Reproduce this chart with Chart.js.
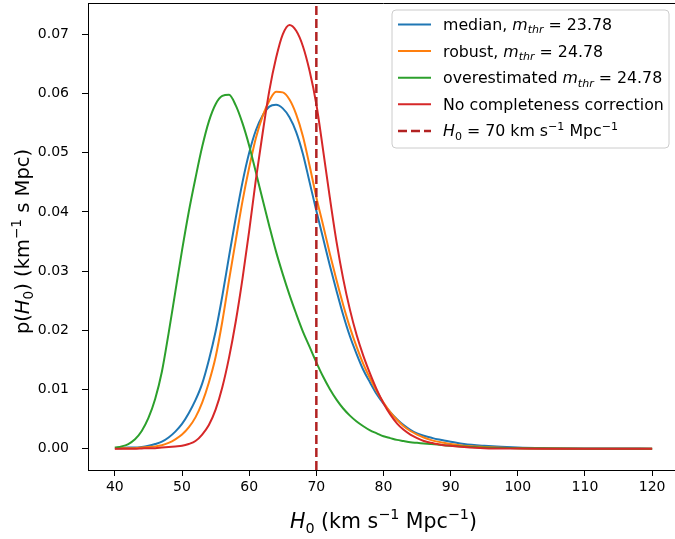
<!DOCTYPE html>
<html>
<head>
<meta charset="utf-8">
<script src="https://cdn.jsdelivr.net/npm/chart.js@4/dist/chart.umd.min.js"></script>
<style>
html,body{margin:0;padding:0;background:#fff;overflow:hidden;}
#wrap{width:675px;height:539px;overflow:hidden;position:relative;}
#c{display:block;position:absolute;left:0;top:0;}
</style>
</head>
<body>
<div id="wrap"><canvas id="c" width="685" height="539" style="width:685px;height:539px"></canvas></div>
<script>
// ---- data ----
const H0grid = [40,41,42,43,44,45,46,47,48,49,50,51,52,53,54,55,56,57,58,59,60,61,62,63,64,65,66,67,68,69,70,71,72,73,74,75,76,77,78,79,80,81,82,83,84,85,86,87,88,89,90,92,95,100,105,110,115,120];
const median = [0.0001,0.0001,0.0002,0.0002,0.0003,0.0005,0.0008,0.0012,0.0019,0.0029,0.0042,0.0060,0.0082,0.0110,0.0150,0.0198,0.0258,0.0325,0.0390,0.0450,0.0500,0.0538,0.0563,0.0578,0.0581,0.0575,0.0560,0.0535,0.0498,0.0450,0.0402,0.0356,0.0310,0.0267,0.0226,0.0190,0.0160,0.0133,0.0112,0.0092,0.0076,0.0062,0.0050,0.0040,0.0032,0.0026,0.0022,0.0019,0.0016,0.0014,0.0012,0.0008,0.0005,0.0002,0.0001,0.00005,0.00003,0.00002];
const robust = [0.00005,0.0001,0.0001,0.0001,0.0002,0.0003,0.0004,0.0006,0.0010,0.0016,0.0024,0.0036,0.0053,0.0078,0.0112,0.0155,0.0215,0.0285,0.0352,0.0418,0.0475,0.0525,0.0562,0.0588,0.0603,0.0602,0.0590,0.0565,0.0528,0.0478,0.0425,0.0378,0.0330,0.0285,0.0243,0.0205,0.0172,0.0143,0.0119,0.0097,0.0078,0.0062,0.0049,0.0038,0.0030,0.0024,0.0019,0.0015,0.0012,0.0010,0.0008,0.0005,0.0003,0.0001,0.00005,0.00002,0.00001,0.00001];
const overestimated = [0.0002,0.0004,0.0008,0.0016,0.0030,0.0052,0.0084,0.0130,0.0195,0.0265,0.0335,0.0400,0.0457,0.0510,0.0553,0.0582,0.0596,0.0598,0.0580,0.0550,0.0512,0.0467,0.0421,0.0376,0.0333,0.0295,0.0260,0.0228,0.0198,0.0172,0.0146,0.0122,0.0101,0.0083,0.0068,0.0056,0.0046,0.0038,0.0031,0.0026,0.0021,0.0018,0.0015,0.0013,0.0011,0.0010,0.0009,0.0008,0.0007,0.0006,0.0005,0.0004,0.0002,0.0001,0.00005,0.00002,0.00001,0.00001];
const noCorrection = [0,0,0,0,0.00005,0.0001,0.0001,0.0002,0.0003,0.0004,0.0005,0.0008,0.0013,0.0024,0.0040,0.0066,0.0104,0.0154,0.0215,0.0287,0.0368,0.0455,0.0533,0.0605,0.0660,0.0700,0.0716,0.0706,0.0680,0.0638,0.0582,0.0505,0.0425,0.0350,0.0287,0.0235,0.0192,0.0157,0.0127,0.0100,0.0077,0.0058,0.0043,0.0032,0.0024,0.0018,0.0013,0.0010,0.0008,0.0006,0.0005,0.0003,0.0001,0.00003,0.00001,0,0,0];
const H0true = 70;
const xTicks = [40,50,60,70,80,90,100,110,120];
const yTicks = [0,0.01,0.02,0.03,0.04,0.05,0.06,0.07];
const xRange = [36,124];
const yRange = [-0.00359,0.0753];

const FAM = "'DejaVu Sans', sans-serif";
const pts = arr => H0grid.map((h,i)=>({x:h,y:arr[i]}));

function segFont(s,size){
  const sz = (s.sub||s.sup)? size*0.7 : size;
  return (s.it?'italic ':'') + sz + 'px ' + FAM;
}
function richWidth(ctx,segs,size){
  let w=0;
  segs.forEach(s=>{ctx.font=segFont(s,size); w+=ctx.measureText(s.t).width;});
  return w;
}
function drawRich(ctx,segs,x,y,size,align){
  let cx = x;
  if(align==='center') cx = x - richWidth(ctx,segs,size)/2;
  ctx.textAlign='left'; ctx.textBaseline='alphabetic';
  segs.forEach(s=>{
    ctx.font=segFont(s,size);
    let dy=0;
    if(s.sub) dy = size*0.22;
    if(s.sup) dy = -size*0.42;
    ctx.fillText(s.t,cx,y+dy);
    cx += ctx.measureText(s.t).width;
  });
}
const M = '\u2212';
const legendItems = [
  {color:'#1f77b4', dash:[], segs:[{t:'median, '},{t:'m',it:1},{t:'thr',it:1,sub:1},{t:' = 23.78'}]},
  {color:'#ff7f0e', dash:[], segs:[{t:'robust, '},{t:'m',it:1},{t:'thr',it:1,sub:1},{t:' = 24.78'}]},
  {color:'#2ca02c', dash:[], segs:[{t:'overestimated '},{t:'m',it:1},{t:'thr',it:1,sub:1},{t:' = 24.78'}]},
  {color:'#d62728', dash:[], segs:[{t:'No completeness correction'}]},
  {color:'#b22222', dash:[9,4], w:2.5, segs:[{t:'H',it:1},{t:'0',sub:1},{t:' = 70 km s'},{t:M+'1',sup:1},{t:' Mpc'},{t:M+'1',sup:1}]}
];
const xTitle = [{t:'H',it:1},{t:'0',sub:1},{t:' (km s'},{t:M+'1',sup:1},{t:' Mpc'},{t:M+'1',sup:1},{t:')'}];
const yTitle = [{t:'p('},{t:'H',it:1},{t:'0',sub:1},{t:') (km'},{t:M+'1',sup:1},{t:' s Mpc)'}];

const deco = {
  id:'deco',
  afterDraw(chart){
    const ctx=chart.ctx, a=chart.chartArea;
    ctx.save();
    ctx.strokeStyle='#000'; ctx.lineWidth=1;
    ctx.beginPath();
    ctx.moveTo(a.left, a.top+0.5); ctx.lineTo(a.right, a.top+0.5);
    ctx.stroke();
    // legend
    const L=392,T=10,R=669,B=148,r=4;
    ctx.beginPath();
    ctx.moveTo(L+r,T); ctx.arcTo(R,T,R,B,r); ctx.arcTo(R,B,L,B,r); ctx.arcTo(L,B,L,T,r); ctx.arcTo(L,T,R,T,r); ctx.closePath();
    ctx.fillStyle='rgba(255,255,255,0.8)'; ctx.fill();
    ctx.strokeStyle='#cccccc'; ctx.lineWidth=1; ctx.stroke();
    legendItems.forEach((it,i)=>{
      const yc = 24.5 + i*26.6;
      ctx.beginPath(); ctx.setLineDash(it.dash); ctx.strokeStyle=it.color; ctx.lineWidth=it.w||2;
      ctx.moveTo(398,yc); ctx.lineTo(431,yc); ctx.stroke(); ctx.setLineDash([]);
      ctx.fillStyle='#000';
      drawRich(ctx,it.segs,443,yc+5.5,15.8,'left');
    });
    // axis titles
    ctx.fillStyle='#000';
    drawRich(ctx,xTitle,383.5, 528, 20.5,'center');
    ctx.save();
    ctx.translate(29, (a.top+a.bottom)/2 + 5);
    ctx.rotate(-Math.PI/2);
    drawRich(ctx,yTitle,0,0,19.5,'center');
    ctx.restore();
    ctx.restore();
  }
};

const mk = (label,arr,color,order)=>({label,data:pts(arr),borderColor:color,backgroundColor:color,borderWidth:2,pointRadius:0,cubicInterpolationMode:'monotone',fill:false,order});
const noPad = s=>{s.paddingTop=0;s.paddingBottom=0;s.paddingLeft=0;s.paddingRight=0;};

new Chart(document.getElementById('c'),{
  type:'line',
  data:{datasets:[
    mk('median',median,'#1f77b4',5),
    mk('robust',robust,'#ff7f0e',4),
    mk('overestimated',overestimated,'#2ca02c',3),
    mk('No completeness correction',noCorrection,'#d62728',2),
    {label:'H0 = 70',data:[{x:H0true,y:yRange[0]},{x:H0true,y:yRange[1]}],borderColor:'#b22222',borderWidth:2.5,borderDash:[9,4],pointRadius:0,order:1}
  ]},
  options:{
    responsive:false, animation:false, devicePixelRatio:1,
    layout:{padding:{left:0,top:3,right:6,bottom:0}},
    plugins:{legend:{display:false},tooltip:{enabled:false}},
    scales:{
      x:{type:'linear',min:xRange[0],max:xRange[1],
        afterBuildTicks(s){s.ticks=xTicks.map(v=>({value:v}));},
        afterFit(s){s.height=69;noPad(s);},
        ticks:{color:'#000',font:{family:FAM,size:14},padding:3,maxRotation:0,callback:v=>String(v)},
        grid:{drawOnChartArea:false,drawTicks:true,tickLength:6,tickColor:'#000'},
        border:{display:true,color:'#000',width:1}},
      y:{type:'linear',min:yRange[0],max:yRange[1],
        afterBuildTicks(s){s.ticks=yTicks.map(v=>({value:v}));},
        afterFit(s){s.width=88;noPad(s);},
        ticks:{color:'#000',font:{family:FAM,size:14},padding:13,callback:v=>v.toFixed(2)},
        grid:{drawOnChartArea:false,drawTicks:true,tickLength:6,tickColor:'#000'},
        border:{display:true,color:'#000',width:1}}
    }
  },
  plugins:[deco]
});
</script>
</body>
</html>
